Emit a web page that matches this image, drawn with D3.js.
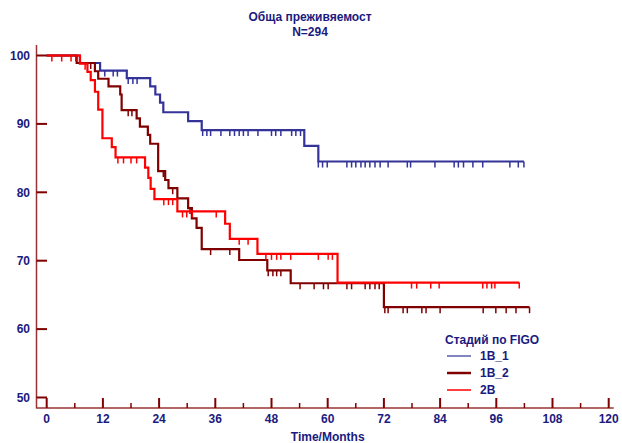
<!DOCTYPE html>
<html><head><meta charset="utf-8">
<script src="https://cdn.jsdelivr.net/npm/d3@7/dist/d3.min.js"></script>
<style>body{margin:0;background:#fff}svg{display:block}text{font-family:"Liberation Sans",Arial,sans-serif;font-weight:bold;fill:#1a1a80}</style>
</head><body><svg id="c" width="622" height="443"></svg>
<script>
const title = "Обща преживяемост";
const subtitle = "N=294";
const xLabel = "Time/Months";
const legendTitle = "Стадий по FIGO";
const seriesNames = ["1B_1", "1B_2", "2B"];
const seriesColors = ["#333399", "#800000", "#ff0000"];
const xTicks = [0,12,24,36,48,60,72,84,96,108,120];
const yTicks = [50,60,70,80,90,100];

// 1B_1
const b1Times = [7.1, 11.4, 17.1, 22.1, 23.2, 24.2, 24.9, 30.2, 33.1, 55.0, 58.0];
const b1Surv  = [98.9, 97.8, 96.7, 95.5, 94.3, 93.1, 91.7, 90.4, 89.1, 86.8, 84.5];
const b1Censor = [12.4, 14.2, 15.1, 17.4, 18.4, 19.3, 33.3, 34.2, 35.0, 37.2, 39.1, 40.1, 41.1, 42.0, 43.0, 45.1, 48.0, 48.9, 50.0, 52.3, 53.2, 54.2,
  58.0, 58.9, 59.9, 64.1, 65.1, 66.0, 67.1, 68.0, 69.0, 70.1, 71.2, 72.9, 77.0, 77.7, 82.9, 87.0, 87.9, 89.0, 91.0, 93.1, 98.9, 100.7, 101.9];
const b1End = 101.9;

// 1B_2
const b2Times = [6.4, 10.3, 11.0, 13.2, 15.7, 16.0, 19.2, 19.9, 21.6, 22.1, 23.8, 25.3, 26.0, 27.9, 30.2, 31.0, 32.0, 33.1, 41.1, 47.1, 52.1, 72.0];
const b2Surv  = [98.9, 97.7, 96.6, 95.5, 94.3, 92.0, 90.8, 89.6, 88.4, 87.1, 83.1, 81.8, 80.6, 79.1, 77.7, 76.2, 74.8, 71.7, 70.1, 68.6, 66.7, 63.2];
const b2Censor = [9.4, 17.4, 18.2, 24.9, 26.9, 30.6, 35.0, 39.1, 47.3, 48.3, 49.1, 50.0, 54.1, 57.1, 59.1, 60.1, 64.1, 65.1, 68.0, 69.0, 70.1, 71.0,
  72.2, 72.9, 76.1, 77.0, 80.1, 81.0, 84.0, 93.2, 95.9, 98.1, 100.2, 103.1];
const b2End = 103.1;

// 2B
const c2Times = [7.1, 8.7, 9.4, 10.3, 11.0, 11.9, 13.9, 14.7, 21.0, 21.7, 22.2, 23.0, 27.9, 38.1, 39.1, 45.0, 62.1];
const c2Surv  = [98.8, 97.6, 96.4, 94.7, 92.1, 87.9, 86.6, 85.1, 83.6, 82.1, 80.5, 79.0, 77.2, 75.4, 73.2, 71.0, 66.8];
const c2Censor = [1.1, 3.2, 5.2, 6.2, 8.2, 15.2, 16.4, 18.0, 19.2, 25.0, 26.0, 26.9, 29.0, 29.9, 31.1, 36.2, 41.1, 43.0,
  46.8, 48.0, 49.1, 50.0, 52.1, 58.0, 60.1, 61.0, 77.9, 79.0, 82.0, 83.8, 93.1, 94.0, 95.0, 95.7, 100.9];
const c2End = 100.9;

const series = [
  {times: b1Times, surv: b1Surv, cens: b1Censor, end: b1End},
  {times: b2Times, surv: b2Surv, cens: b2Censor, end: b2End},
  {times: c2Times, surv: c2Surv, cens: c2Censor, end: c2End}
];

const svg = d3.select("#c");
const x = d3.scaleLinear().domain([0,120]).range([46.7, 608.7]);
const y = d3.scaleLinear().domain([50,100]).range([397.5, 55.5]);
const axisY = 408, axisX = 36.5;
const axisColor = "#993333", tickColor = "#800000";

// axes lines
svg.append("line").attr("x1",axisX).attr("x2",axisX).attr("y1",45).attr("y2",axisY+0.5)
  .attr("stroke",axisColor).attr("stroke-width",1.5);
svg.append("line").attr("x1",axisX).attr("x2",x(120)+5).attr("y1",axisY).attr("y2",axisY)
  .attr("stroke",axisColor).attr("stroke-width",1.5);

// x ticks (major and minor, pointing up)
d3.range(0,121,6).forEach(m => {
  const major = m % 12 === 0;
  svg.append("line").attr("x1",x(m)).attr("x2",x(m)).attr("y1",axisY).attr("y2",axisY-(major?10:5))
    .attr("stroke",tickColor).attr("stroke-width",major?2:1.5);
});
xTicks.forEach(m => {
  svg.append("text").attr("x",x(m)).attr("y",423).attr("text-anchor","middle").attr("font-size",12).text(m);
});
// y ticks
yTicks.forEach(v => {
  svg.append("line").attr("x1",axisX).attr("x2",axisX+10.5).attr("y1",y(v)).attr("y2",y(v))
    .attr("stroke",tickColor).attr("stroke-width",2);
  svg.append("text").attr("x",30).attr("y",y(v)+4.3).attr("text-anchor","end").attr("font-size",12).text(v);
});

// titles
svg.append("text").attr("x",310).attr("y",21).attr("text-anchor","middle").attr("font-size",12).text(title);
svg.append("text").attr("x",310).attr("y",36).attr("text-anchor","middle").attr("font-size",12).text(subtitle);
svg.append("text").attr("x",(x(0)+x(120))/2).attr("y",441).attr("text-anchor","middle").attr("font-size",12).text(xLabel);

// curves
const line = d3.line().x(d=>x(d[0])).y(d=>y(d[1])).curve(d3.curveStepAfter);
function survAt(s, t){ let v = 100; s.times.forEach((tt,i)=>{ if (tt <= t) v = s.surv[i]; }); return v; }
series.forEach((s, i) => {
  const pts = [[0,100]];
  s.times.forEach((t,j)=>pts.push([t, s.surv[j]]));
  pts.push([s.end, s.surv[s.surv.length-1]]);
  const g = svg.append("g");
  g.append("path").attr("d", line(pts)).attr("fill","none").attr("stroke",seriesColors[i]).attr("stroke-width",2.2);
  s.cens.forEach(t => {
    const v = survAt(s, t);
    g.append("line").attr("x1",x(t)).attr("x2",x(t)).attr("y1",y(v)).attr("y2",y(v)+6)
      .attr("stroke",seriesColors[i]).attr("stroke-width",1.5);
  });
});

// legend
const lg = svg.append("g");
lg.append("text").attr("x",445).attr("y",344).attr("font-size",12).text(legendTitle);
const legW = [1.2, 2.5, 1.5];
seriesNames.forEach((n,i) => {
  const yy = 356 + i*17;
  lg.append("line").attr("x1",447).attr("x2",471).attr("y1",yy).attr("y2",yy)
    .attr("stroke",seriesColors[i]).attr("stroke-width",legW[i]);
  lg.append("text").attr("x",480).attr("y",yy+4.3).attr("font-size",12).text(n);
});
</script></body></html>
